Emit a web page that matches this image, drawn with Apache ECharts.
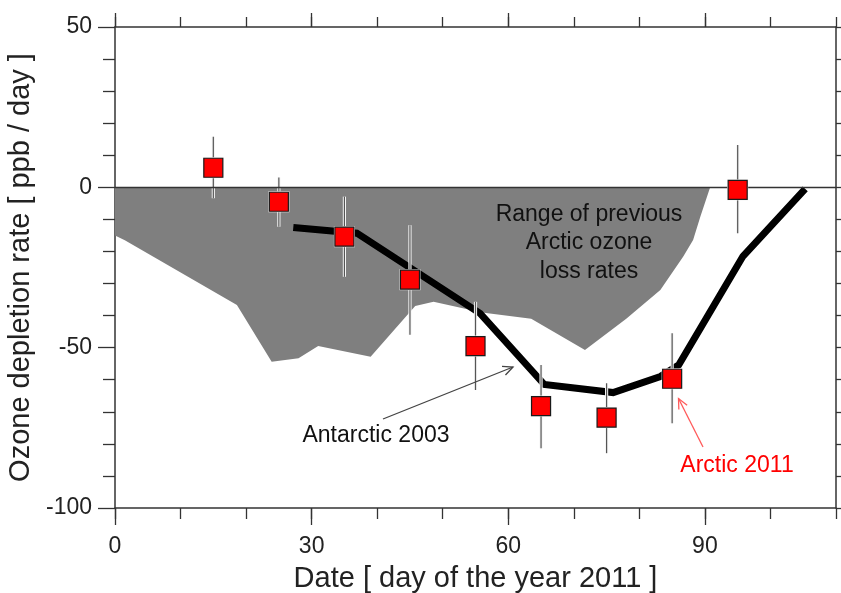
<!DOCTYPE html>
<html>
<head>
<meta charset="utf-8">
<script src="https://cdn.jsdelivr.net/npm/echarts@6/dist/echarts.min.js"></script>
<style>
html,body{margin:0;padding:0;background:#fff;}
#chart{width:841px;height:593px;}
</style>
</head>
<body>
<div id="chart"></div>
<script>
// ---- data ----
const obsDays = [15, 25, 35, 45, 55, 65, 75, 85, 95];
const arctic2011 = [6.1, -4.5, -15.4, -28.8, -49.5, -68.2, -71.8, -59.7, -0.8];
const errHigh = [15.8, 3.1, -2.9, -11.8, -35.7, -55.4, -61.1, -45.5, 13.2];
const errLow = [-3.4, -12.3, -27.9, -46.0, -63.2, -81.4, -82.9, -73.6, -14.3];

const antarcticDays = [27.2, 36.9, 55.7, 65.5, 76.0, 83.2, 86.0, 95.8, 105.3];
const antarctic2003 = [-12.5, -14.3, -39.3, -61.5, -64.0, -59.0, -55.4, -21.5, -0.5];

const rangeDays = [0, 1.5, 18.6, 23.9, 28, 31, 39, 45.8, 48.6, 56, 63.5, 71.7, 78, 83.2, 86.7, 88.2, 89.3, 90.8];
const rangeLow = [-15, -16.5, -36.7, -54.4, -53.3, -49.5, -52.8, -37, -35.7, -39, -41, -50.7, -41, -32, -21.6, -16.4, -9.2, 0];

const xLabelValues = [0, 30, 60, 90];

// ---- chart ----
const FONT = 'Liberation Sans';
const AX = '#333';
const chart = echarts.init(document.getElementById('chart'), null, {renderer: 'canvas'});

const zip = (a, b) => a.map((v, i) => [v, b[i]]);
const errData = obsDays.map((d, i) => [d, errLow[i], errHigh[i]]);

function arrow(tail, tip, color, headLen) {
  const dx = tip[0] - tail[0], dy = tip[1] - tail[1];
  const len = Math.hypot(dx, dy);
  const ux = dx / len, uy = dy / len;
  const ang = 25 * Math.PI / 180;
  const rot = (a) => [ux * Math.cos(a) - uy * Math.sin(a), ux * Math.sin(a) + uy * Math.cos(a)];
  const r1 = rot(ang), r2 = rot(-ang);
  return [
    {type: 'line', shape: {x1: tail[0], y1: tail[1], x2: tip[0], y2: tip[1]},
      style: {stroke: color, lineWidth: 1.3}, z: 100},
    {type: 'polyline', shape: {points: [
      [tip[0] - headLen * r1[0], tip[1] - headLen * r1[1]], tip,
      [tip[0] - headLen * r2[0], tip[1] - headLen * r2[1]]]},
      style: {stroke: color, lineWidth: 1.3, fill: null}, z: 100}
  ];
}

const axisLineStyle = {color: AX, width: 1.5};
const tickStyle = {color: AX, width: 1.3};

const option = {
  animation: false,
  backgroundColor: '#fff',
  textStyle: {fontFamily: FONT},
  grid: {left: 115, top: 27, width: 721, height: 481, containLabel: false, outerBoundsMode: 'none'},
  xAxis: [
    {
      type: 'value', position: 'bottom', min: 0, max: 110, interval: 10,
      axisLine: {show: true, onZero: false, lineStyle: axisLineStyle},
      axisTick: {show: true, length: 11, lineStyle: tickStyle},
      axisLabel: {customValues: xLabelValues, margin: 27, fontSize: 23, color: '#222', fontFamily: FONT},
      splitLine: {show: false},
      name: 'Date [ day of the year 2011 ]', nameLocation: 'middle', nameGap: 56,
      nameTextStyle: {fontSize: 29, color: '#222', fontFamily: FONT}
    },
    {
      type: 'value', position: 'bottom', min: 0, max: 110,
      axisLine: {show: false, onZero: false},
      axisTick: {show: true, customValues: xLabelValues, length: 17, lineStyle: tickStyle},
      axisLabel: {show: false}, splitLine: {show: false}
    },
    {
      type: 'value', position: 'top', min: 0, max: 110, interval: 10,
      axisLine: {show: true, onZero: false, lineStyle: axisLineStyle},
      axisTick: {show: true, length: 10, lineStyle: tickStyle},
      axisLabel: {show: false}, splitLine: {show: false}
    },
    {
      type: 'value', position: 'top', min: 0, max: 110,
      axisLine: {show: false, onZero: false},
      axisTick: {show: true, customValues: xLabelValues, length: 14, lineStyle: tickStyle},
      axisLabel: {show: false}, splitLine: {show: false}
    }
  ],
  yAxis: [
    {
      type: 'value', position: 'left', min: -100, max: 50, interval: 50,
      axisLine: {show: true, onZero: false, lineStyle: axisLineStyle},
      axisTick: {show: true, length: 17, lineStyle: tickStyle},
      minorTick: {show: true, splitNumber: 5, length: 12, lineStyle: tickStyle},
      axisLabel: {margin: 23, fontSize: 23, color: '#222', fontFamily: FONT},
      splitLine: {show: false}, minorSplitLine: {show: false},
      name: 'Ozone depletion rate [ ppb / day ]', nameLocation: 'middle', nameGap: 68,
      nameTextStyle: {fontSize: 29, color: '#222', fontFamily: FONT}
    },
    {
      type: 'value', position: 'right', min: -100, max: 50, interval: 10,
      axisLine: {show: true, onZero: false, lineStyle: axisLineStyle},
      axisTick: {show: true, length: 6, lineStyle: tickStyle},
      axisLabel: {show: false}, splitLine: {show: false}
    }
  ],
  series: [
    {
      name: 'Range of previous Arctic ozone loss rates',
      type: 'line', xAxisIndex: 0, yAxisIndex: 0,
      data: zip(rangeDays, rangeLow),
      showSymbol: false, symbol: 'none', silent: true,
      lineStyle: {width: 0, color: '#7f7f7f'},
      areaStyle: {color: '#7f7f7f', opacity: 1, origin: 'auto'},
      z: 1,
      markLine: {
        silent: true, symbol: 'none', label: {show: false},
        lineStyle: {color: '#333', width: 1.3, type: 'solid'},
        data: [{yAxis: 0}]
      }
    },
    {
      name: 'Antarctic 2003',
      type: 'line', xAxisIndex: 0, yAxisIndex: 0,
      data: zip(antarcticDays, antarctic2003),
      showSymbol: false, symbol: 'none', silent: true,
      lineStyle: {width: 7, color: '#000', join: 'miter', cap: 'butt'},
      z: 3
    },
    {
      name: 'error',
      type: 'custom', xAxisIndex: 0, yAxisIndex: 0,
      data: errData, silent: true, z: 4,
      renderItem: function (params, api) {
        const x = api.value(0);
        const p1 = api.coord([x, api.value(2)]);
        const p2 = api.coord([x, api.value(1)]);
        return {
          type: 'group', children: [
            {type: 'line', shape: {x1: p1[0], y1: p1[1], x2: p2[0], y2: p2[1]},
              style: {stroke: '#f4f4f4', lineWidth: 3.2}},
            {type: 'line', shape: {x1: p1[0], y1: p1[1], x2: p2[0], y2: p2[1]},
              style: {stroke: '#555', lineWidth: 1.2}}
          ]
        };
      }
    },
    {
      name: 'halo', type: 'scatter', xAxisIndex: 0, yAxisIndex: 0,
      data: zip(obsDays, arctic2011), symbol: 'rect', symbolSize: 21,
      itemStyle: {color: '#f2f2f2', opacity: 1}, silent: true, z: 5
    },
    {
      name: 'Arctic 2011', type: 'scatter', xAxisIndex: 0, yAxisIndex: 0,
      data: zip(obsDays, arctic2011), symbol: 'rect', symbolSize: 19,
      itemStyle: {color: '#ff0000', borderColor: '#1a1a1a', borderWidth: 1.2, opacity: 1},
      silent: true, z: 6
    }
  ],
  graphic: [
    {type: 'text', z: 100, style: {
      text: 'Range of previous\nArctic ozone\nloss rates', x: 589, y: 243,
      textAlign: 'center', textVerticalAlign: 'middle', lineHeight: 28.5,
      font: '23px "Liberation Sans"', fill: '#111'}},
    {type: 'text', z: 100, style: {
      text: 'Antarctic 2003', x: 376, y: 436, textAlign: 'center', textVerticalAlign: 'middle',
      font: '23px "Liberation Sans"', fill: '#111'}},
    {type: 'text', z: 100, style: {
      text: 'Arctic 2011', x: 737, y: 466, textAlign: 'center', textVerticalAlign: 'middle',
      font: '23px "Liberation Sans"', fill: '#ff0000'}}
  ].concat(arrow([383, 419], [513, 367], '#444', 11))
   .concat(arrow([703, 447], [678.5, 398.5], '#ff5a5a', 11))
};

chart.setOption(option);
</script>
</body>
</html>
